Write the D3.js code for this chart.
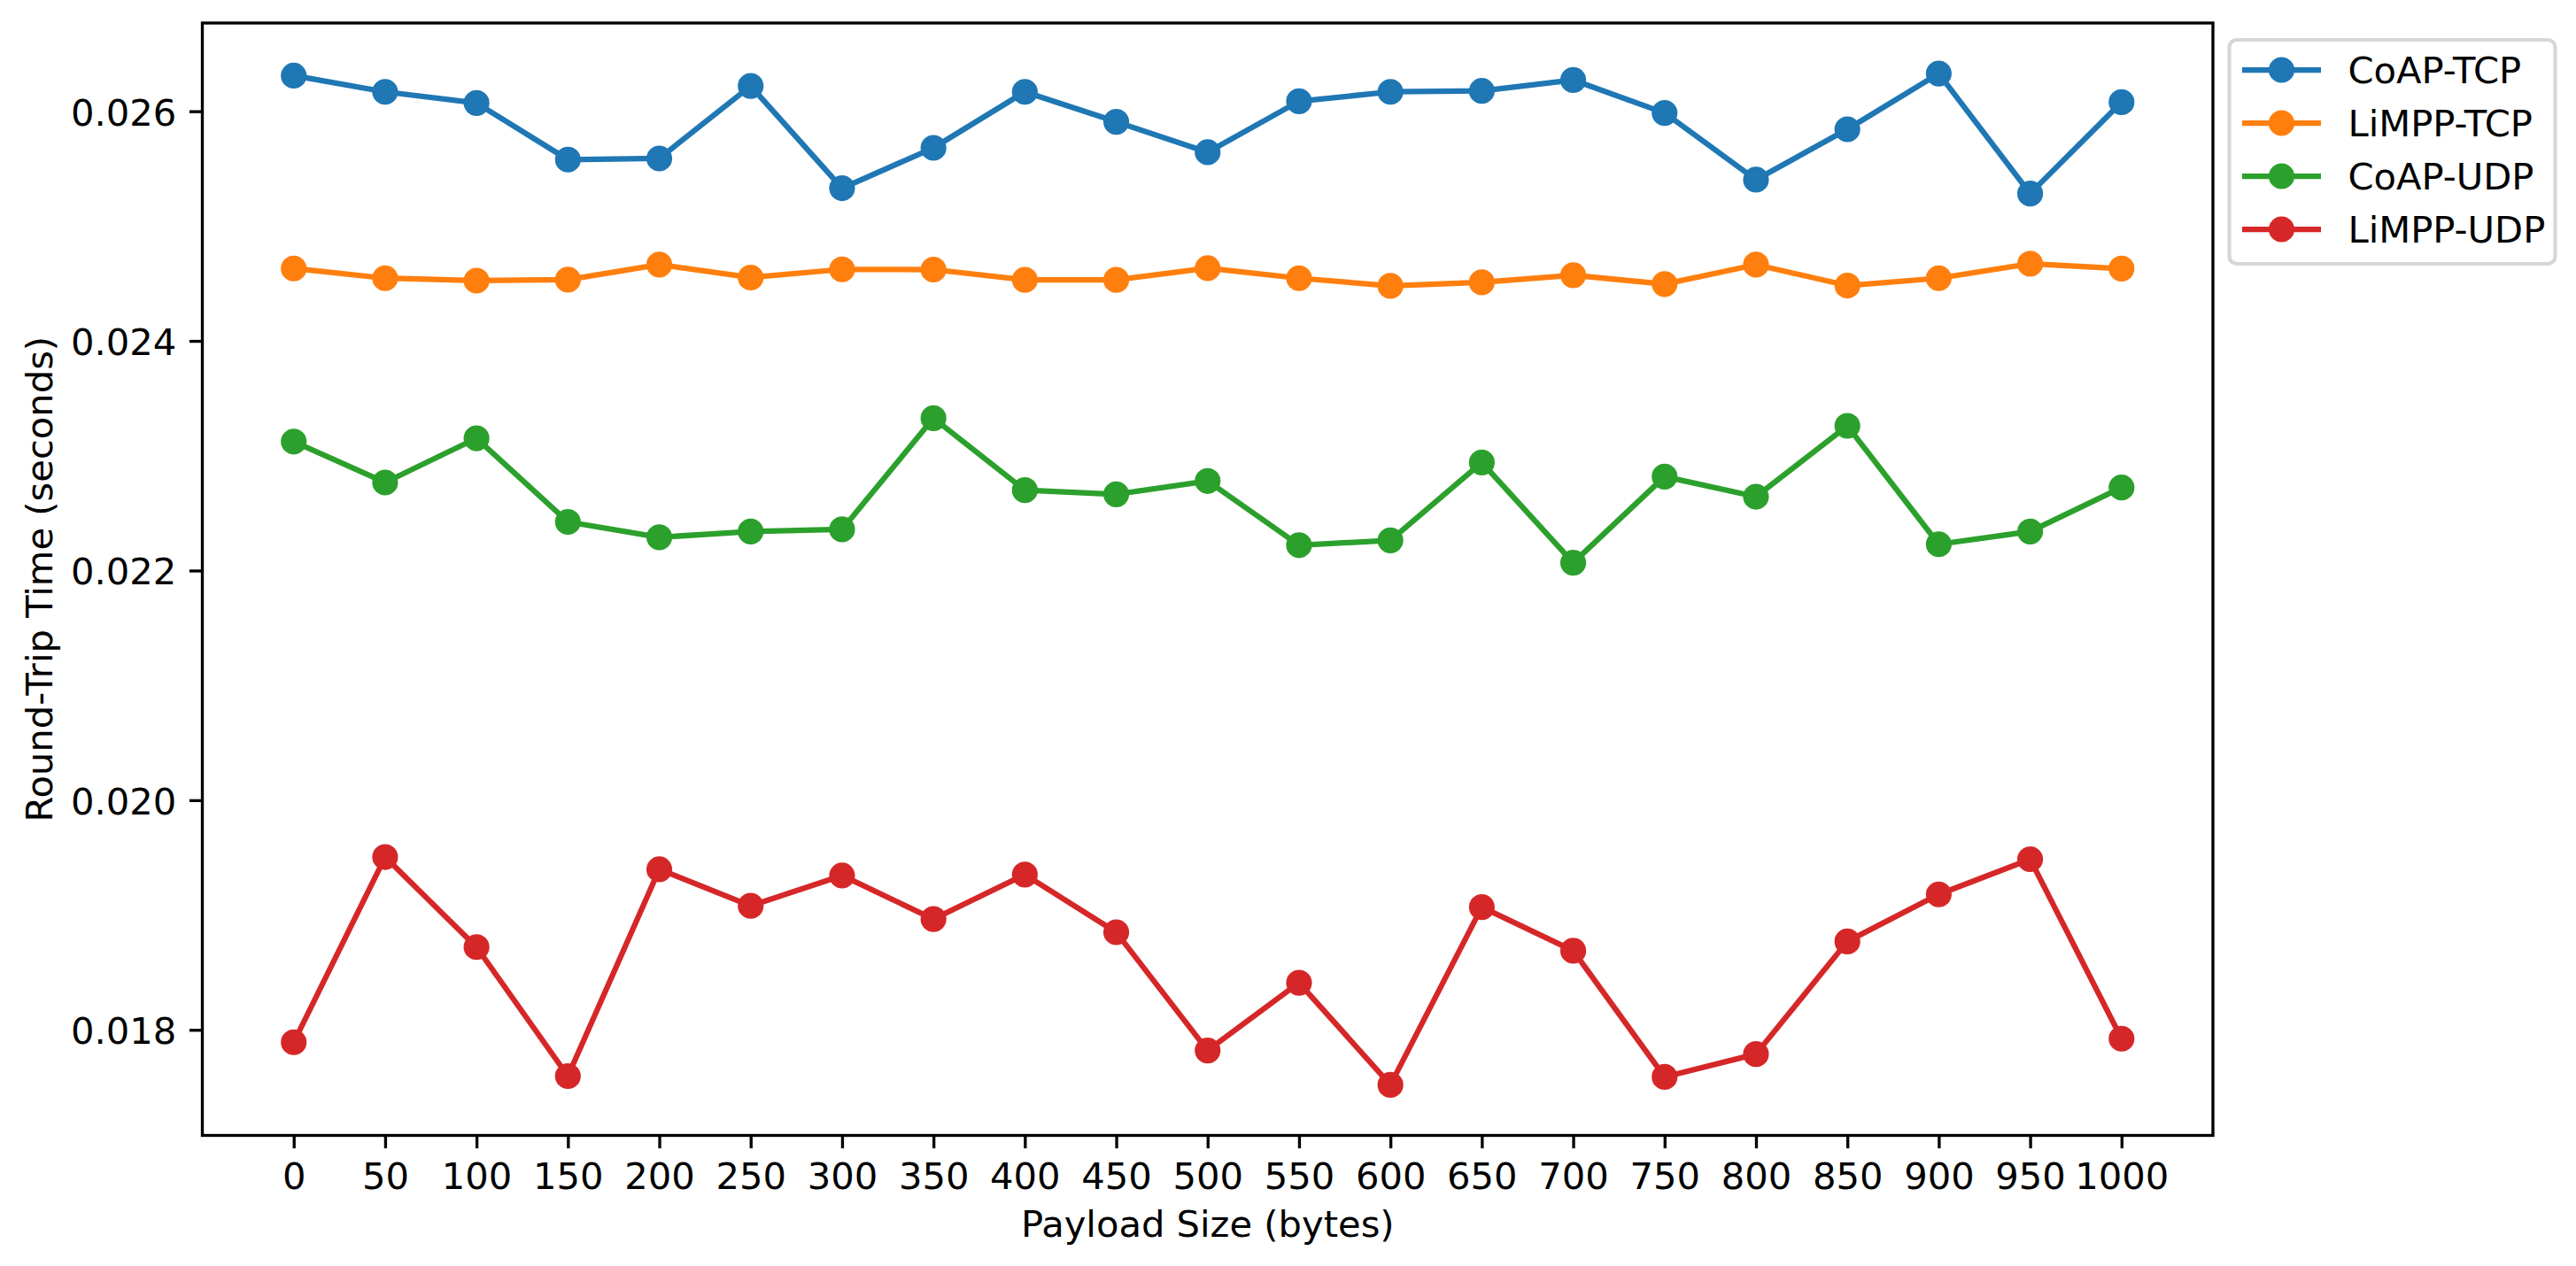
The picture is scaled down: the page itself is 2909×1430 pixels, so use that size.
<!DOCTYPE html>
<html>
<head>
<meta charset="utf-8">
<script src="https://cdn.jsdelivr.net/npm/d3@7"></script>
<style>
  body { margin: 0; background: #ffffff; }
  svg { display: block; font-family: "DejaVu Sans", sans-serif; }
</style>
</head>
<body>
<svg id="chart"></svg>
<script>
// payload sizes on the x axis
let payloadSizes = [0, 50, 100, 150, 200, 250, 300, 350, 400, 450, 500, 550, 600, 650, 700, 750, 800, 850, 900, 950, 1000];

// round-trip times (seconds)
let coapTcp = [0.026310, 0.026169, 0.026072, 0.025579, 0.025589, 0.026220, 0.025330, 0.025681, 0.026169, 0.025908, 0.025643,
    0.026087, 0.026169, 0.026177, 0.026272, 0.025985, 0.025404, 0.025843, 0.026328, 0.025283, 0.026079];
let limppTcp = [0.024631, 0.024546, 0.024525, 0.024533, 0.024664, 0.024552, 0.024623, 0.024621, 0.024531, 0.024531, 0.024633,
    0.024546, 0.024479, 0.024510, 0.024572, 0.024495, 0.024664, 0.024482, 0.024546, 0.024672, 0.024630];
let coapUdp = [0.023123, 0.022767, 0.023152, 0.022424, 0.022290, 0.022340, 0.022359, 0.023327, 0.022700, 0.022664, 0.022780,
    0.022221, 0.022263, 0.022941, 0.022068, 0.022818, 0.022643, 0.023260, 0.022229, 0.022340, 0.022723];
let limppUdp = [0.017892, 0.019505, 0.018721, 0.017597, 0.019398, 0.019080, 0.019344, 0.018965, 0.019352, 0.018850, 0.017820,
    0.018410, 0.017521, 0.019069, 0.018689, 0.017590, 0.017789, 0.018770, 0.019180, 0.019486, 0.017923];

let seriesNames = ['CoAP-TCP', 'LiMPP-TCP', 'CoAP-UDP', 'LiMPP-UDP'];
let seriesColors = ['#1f77b4', '#ff7f0e', '#2ca02c', '#d62728'];
let yTicks = [0.018, 0.020, 0.022, 0.024, 0.026];

let width = 2909;
let height = 1430;
let margin = {left: 228.5, right: 2499, top: 26, bottom: 1282.5};
let fontSize = 41.67;
let tickLen = 14.6;
let spineWidth = 3.33;
let markerR = 12.5;    // face radius
let markerEdge = 4.17; // edge drawn in the same colour

let series = [coapTcp, limppTcp, coapUdp, limppUdp].map((values, i) => ({
    name: seriesNames[i],
    color: seriesColors[i],
    points: values.map((v, j) => ({x: payloadSizes[j], y: v}))
}));

let svg = d3.select('#chart')
    .attr('width', width)
    .attr('height', height);

// 5% padding on each side, same as the default plot margins
let pad = (lo, hi) => [lo - (hi - lo) * 0.05, hi + (hi - lo) * 0.05];
let xExtent = d3.extent(payloadSizes);
let allY = d3.merge([coapTcp, limppTcp, coapUdp, limppUdp]);
let yExtent = d3.extent(allY);

let x = d3.scaleLinear()
    .domain(pad(xExtent[0], xExtent[1]))
    .range([margin.left, margin.right]);

let y = d3.scaleLinear()
    .domain(pad(yExtent[0], yExtent[1]))
    .range([margin.bottom, margin.top]);

// lines + markers, one series at a time
let line = d3.line()
    .x(d => x(d.x))
    .y(d => y(d.y));

let plot = svg.append('g');

series.forEach(s => {
    let g = plot.append('g');
    g.append('path')
        .datum(s.points)
        .attr('fill', 'none')
        .attr('stroke', s.color)
        .attr('stroke-width', 6.25)
        .attr('stroke-linejoin', 'round')
        .attr('stroke-linecap', 'square')
        .attr('d', line);
    g.selectAll('circle')
        .data(s.points)
        .join('circle')
        .attr('cx', d => x(d.x))
        .attr('cy', d => y(d.y))
        .attr('r', markerR)
        .attr('fill', s.color)
        .attr('stroke', s.color)
        .attr('stroke-width', markerEdge);
});

// axes
let xAxis = d3.axisBottom(x)
    .tickValues(payloadSizes)
    .tickFormat(d3.format('d'))
    .tickSizeInner(tickLen)
    .tickSizeOuter(0)
    .tickPadding(tickLen);

let yAxis = d3.axisLeft(y)
    .tickValues(yTicks)
    .tickFormat(d3.format('.3f'))
    .tickSizeInner(tickLen)
    .tickSizeOuter(0)
    .tickPadding(tickLen);

let gx = svg.append('g')
    .attr('transform', `translate(0,${margin.bottom})`)
    .call(xAxis);

let gy = svg.append('g')
    .attr('transform', `translate(${margin.left},0)`)
    .call(yAxis);

[gx, gy].forEach(g => {
    g.select('.domain').remove();
    g.selectAll('.tick line').attr('stroke', '#000').attr('stroke-width', spineWidth);
    g.selectAll('.tick text')
        .attr('fill', '#000')
        .attr('font-size', fontSize)
        .attr('font-family', '"DejaVu Sans", sans-serif');
});
gx.selectAll('.tick text').attr('dy', '0.76em');
gy.selectAll('.tick text').attr('dy', '0.37em');

// frame
svg.append('rect')
    .attr('x', margin.left)
    .attr('y', margin.top)
    .attr('width', margin.right - margin.left)
    .attr('height', margin.bottom - margin.top)
    .attr('fill', 'none')
    .attr('stroke', '#000')
    .attr('stroke-width', spineWidth);

// axis titles
svg.append('text')
    .attr('x', (margin.left + margin.right) / 2)
    .attr('y', 1397)
    .attr('text-anchor', 'middle')
    .attr('font-size', fontSize)
    .text('Payload Size (bytes)');

svg.append('text')
    .attr('transform', `translate(59,${(margin.top + margin.bottom) / 2}) rotate(-90)`)
    .attr('text-anchor', 'middle')
    .attr('font-size', fontSize)
    .text('Round-Trip Time (seconds)');

// legend, outside the axes on the right
let legend = svg.append('g');

legend.append('rect')
    .attr('x', 2517.5)
    .attr('y', 45)
    .attr('width', 368)
    .attr('height', 253)
    .attr('rx', 8.3)
    .attr('fill', '#fff')
    .attr('fill-opacity', 0.8)
    .attr('stroke', '#cccccc')
    .attr('stroke-opacity', 0.8)
    .attr('stroke-width', 4.17);

let entries = legend.selectAll('g.entry')
    .data(series)
    .join('g')
    .attr('class', 'entry')
    .attr('transform', (d, i) => `translate(0,${79 + i * 60})`);

entries.append('line')
    .attr('x1', 2532)
    .attr('x2', 2621)
    .attr('stroke', d => d.color)
    .attr('stroke-width', 6.25);

entries.append('circle')
    .attr('cx', 2576.5)
    .attr('r', markerR)
    .attr('fill', d => d.color)
    .attr('stroke', d => d.color)
    .attr('stroke-width', markerEdge);

entries.append('text')
    .attr('x', 2651.5)
    .attr('y', 15)
    .attr('font-size', fontSize)
    .text(d => d.name);
</script>
</body>
</html>
